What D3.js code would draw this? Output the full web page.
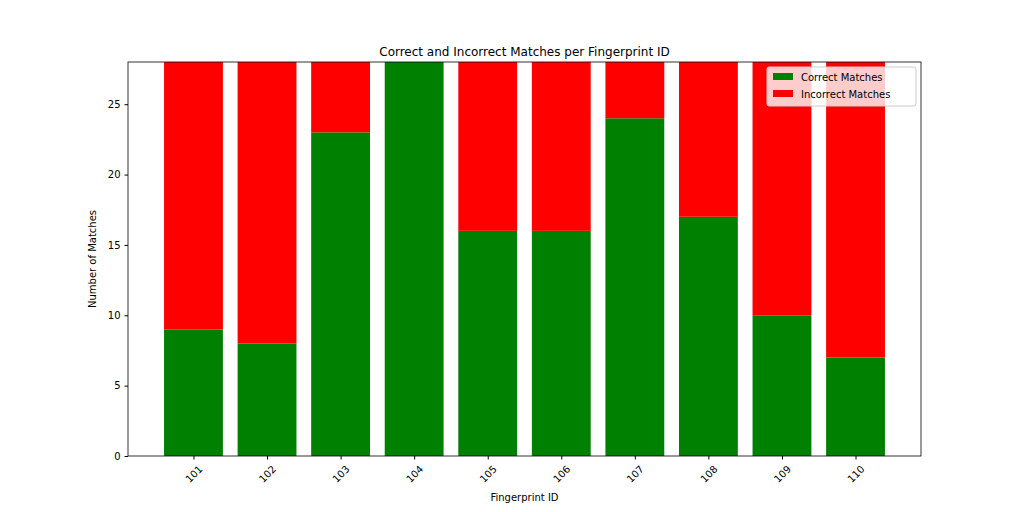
<!DOCTYPE html>
<meta charset="utf-8">
<style>
  body { margin: 0; background: #fff; }
  text { font-family: "DejaVu Sans", sans-serif; }
</style>
<svg id="chart" width="1024" height="512"></svg>
<script src="https://cdn.jsdelivr.net/npm/d3@7"></script>
<script>
// data
var ids = ["101","102","103","104","105","106","107","108","109","110"];
var correct = [9, 8, 23, 28, 16, 16, 24, 17, 10, 7];
var incorrect = [19, 20, 5, 0, 12, 12, 4, 11, 18, 21];
var yTicks = [0, 5, 10, 15, 20, 25];

var svg = d3.select("#chart");
var mLeft = 128, mRight = 921, mTop = 62, mBottom = 456;

var x = d3.scaleLinear().domain([-0.89, 9.89]).range([mLeft, mRight]);
var y = d3.scaleLinear().domain([0, 28]).range([mBottom, mTop]);
var bw = x(0.4) - x(-0.4);

var g = svg.append("g");

g.selectAll(".correct")
    .data(correct)
  .enter().append("rect")
    .attr("x", function(d, i) { return x(i) - bw / 2; })
    .attr("y", function(d) { return y(d); })
    .attr("width", bw)
    .attr("height", function(d) { return y(0) - y(d); })
    .attr("fill", "green");

g.selectAll(".incorrect")
    .data(incorrect)
  .enter().append("rect")
    .attr("x", function(d, i) { return x(i) - bw / 2; })
    .attr("y", function(d, i) { return y(correct[i] + d); })
    .attr("width", bw)
    .attr("height", function(d, i) { return y(correct[i]) - y(correct[i] + d); })
    .attr("fill", "red");

// frame
svg.append("rect")
    .attr("x", mLeft).attr("y", mTop)
    .attr("width", mRight - mLeft).attr("height", mBottom - mTop)
    .attr("fill", "none").attr("stroke", "#000").attr("stroke-width", 0.8);

// y axis
var ya = svg.append("g")
    .attr("transform", "translate(" + mLeft + ",0)")
    .call(d3.axisLeft(y).tickValues(yTicks).tickSize(3.5).tickPadding(4));
ya.select(".domain").remove();
ya.selectAll("text").style("font-size", "10px").attr("fill", "#000").style("font-family", "DejaVu Sans");

// x axis
var xa = svg.append("g")
    .attr("transform", "translate(0," + mBottom + ")")
    .call(d3.axisBottom(x).tickValues(d3.range(ids.length))
      .tickFormat(function(d) { return ids[d]; }).tickSize(3.5).tickPadding(3));
xa.select(".domain").remove();
xa.selectAll("text")
    .style("font-size", "10px").attr("fill", "#000").style("font-family", "DejaVu Sans")
    .attr("text-anchor", "middle")
    .attr("transform", "translate(0,18) rotate(-45)")
    .attr("dy", "0.35em").attr("y", 0).attr("dx", "0");

svg.append("text")
    .attr("x", (mLeft + mRight) / 2).attr("y", 56)
    .attr("text-anchor", "middle").style("font-size", "12px")
    .text("Correct and Incorrect Matches per Fingerprint ID");

svg.append("text")
    .attr("x", (mLeft + mRight) / 2).attr("y", 501)
    .attr("text-anchor", "middle").style("font-size", "10px")
    .text("Fingerprint ID");

svg.append("text")
    .attr("transform", "translate(96," + (mTop + mBottom) / 2 + ") rotate(-90)")
    .attr("text-anchor", "middle").style("font-size", "10px")
    .text("Number of Matches");

// legend
var lg = svg.append("g").attr("transform", "translate(767,67)");
lg.append("rect")
    .attr("width", 149).attr("height", 39).attr("rx", 2)
    .attr("fill", "#fff").attr("fill-opacity", 0.8)
    .attr("stroke", "#ccc");
var items = [["Correct Matches", "green"], ["Incorrect Matches", "red"]];
items.forEach(function(it, i) {
  lg.append("rect").attr("x", 6).attr("y", 6 + i * 17)
      .attr("width", 20).attr("height", 7).attr("fill", it[1]);
  lg.append("text").attr("x", 34).attr("y", 14 + i * 17)
      .style("font-size", "10px").text(it[0]);
});
</script>
